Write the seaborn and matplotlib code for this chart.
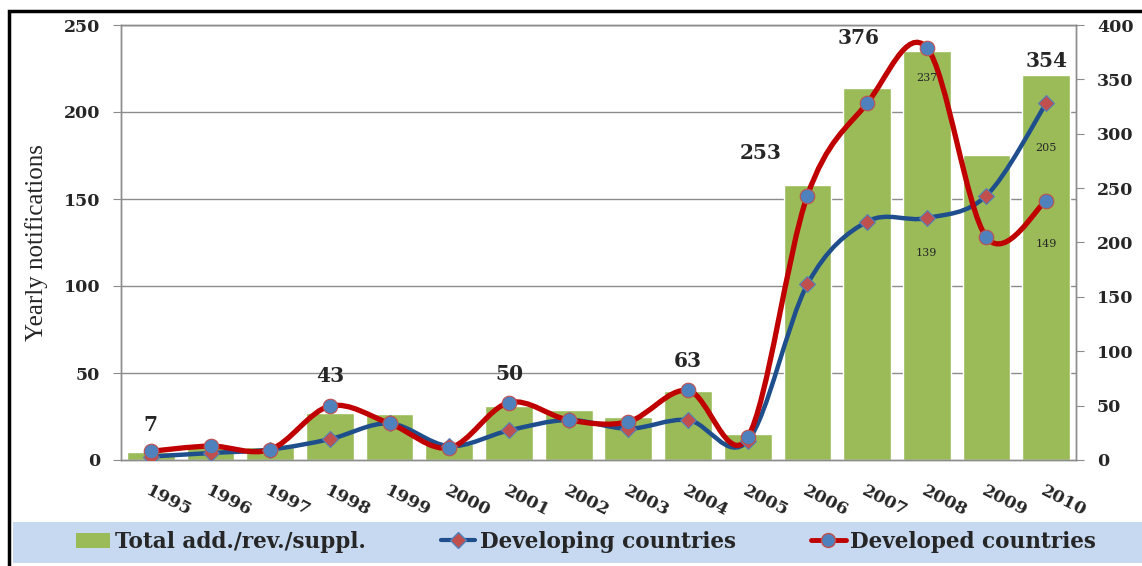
import numpy as np
import seaborn as sns
import matplotlib.pyplot as plt
from matplotlib.path import Path
from matplotlib.patches import PathPatch, Rectangle, Patch
from matplotlib.lines import Line2D

years = list(range(1995, 2011))
total = [7, 12, 12, 43, 42, 15, 50, 46, 40, 63, 24, 253, 342, 376, 280, 354]
developing = [2, 4, 6, 12, 21, 8, 17, 23, 18, 23, 11, 101, 137, 139, 152, 205]
developed = [5, 8, 6, 31, 21, 7, 33, 23, 22, 40, 13, 152, 205, 237, 128, 149]
labelled_totals = [1995, 1998, 2001, 2004, 2006, 2008, 2010]
labelled_points = [("developed", 2008), ("developing", 2008), ("developed", 2010), ("developing", 2010)]

GREEN = "#9BBB59"
RED = "#C00000"
BLUE = "#1F4E8C"
GRID = "#8C8C8C"
SERIF = "DejaVu Serif"


def smooth_path(xs, ys):
    # Excel-like smoothed line: cubic Bezier through every point
    pts = np.column_stack([xs, ys]).astype(float)
    n = len(pts)
    verts = [pts[0]]
    codes = [Path.MOVETO]
    for i in range(n - 1):
        p0 = pts[i - 1] if i > 0 else pts[i]
        p1, p2 = pts[i], pts[i + 1]
        p3 = pts[i + 2] if i + 2 < n else pts[i + 1]
        verts += [p1 + (p2 - p0) / 6, p2 - (p3 - p1) / 6, p2]
        codes += [Path.CURVE4] * 3
    return Path(verts, codes)


sns.set_style("white")
fig = plt.figure(figsize=(11.42, 5.66), dpi=100)
ax = fig.add_axes([121 / 1142, 1 - 460 / 566, (1076 - 121) / 1142, 435 / 566])
ax2 = ax.twinx()

# bars on the right-hand scale
sns.barplot(x=years, y=total, ax=ax, color=GREEN, saturation=1, width=0.8, zorder=2)
ax.set_ylim(0, 400)
ax.set_xlim(-0.5, len(years) - 0.5)
ax.yaxis.tick_right()
ax.set_yticks(range(0, 401, 50))
ax.set_xlabel("")
ax.set_ylabel("")

# gridlines follow the left-hand scale, drawn behind the bars
for v in range(50, 251, 50):
    ax.axhline(v * 400 / 250, color=GRID, lw=1, zorder=0)

# lines on the left-hand scale
x = np.arange(len(years))
ax2.set_ylim(0, 250)
ax2.set_yticks(range(0, 251, 50))
ax2.yaxis.tick_left()
ax2.add_patch(PathPatch(smooth_path(x, developing), fill=False, edgecolor=BLUE, lw=3.2,
                        capstyle="round", joinstyle="round", zorder=3))
ax2.add_patch(PathPatch(smooth_path(x, developed), fill=False, edgecolor=RED, lw=3.8,
                        capstyle="round", joinstyle="round", zorder=4))
ax2.plot(x, developing, ls="none", marker="D", ms=8.5, mfc="#C0504D", mec="#4F81BD", mew=0.8, zorder=5)
ax2.plot(x, developed, ls="none", marker="o", ms=10.5, mfc="#4F81BD", mec="#C0504D", mew=0.8, zorder=6)

# axes styling
for a in (ax, ax2):
    for s in a.spines.values():
        s.set_color(GRID)
        s.set_linewidth(1)
ax.tick_params(axis="y", which="major", direction="out", length=6, color=GRID, pad=9,
               labelsize=12.5)
ax2.tick_params(axis="y", which="major", direction="out", length=6, color=GRID, pad=9,
                labelsize=12.5)
for lab in ax.get_yticklabels() + ax2.get_yticklabels():
    lab.set_fontfamily(SERIF)
    lab.set_fontweight("bold")

ax.set_xticks(x)
ax.set_xticklabels(years, rotation=-27, ha="left", va="top", rotation_mode="anchor",
                   fontfamily=SERIF, fontweight="bold", fontsize=12.5)
ax.set_xticks(np.arange(-0.5, len(years), 1), minor=True)
ax.tick_params(axis="x", which="major", length=0, pad=16)
ax.tick_params(axis="x", which="minor", length=6, color=GRID, direction="out")

ax2.set_ylabel("Yearly notifications", fontfamily="Liberation Serif", fontsize=18)
ax2.yaxis.set_label_position("left")
ax2.yaxis.set_label_coords(-0.076, 0.5)

# total labels above the bars (pixel nudges)
nudges = {1995: (0, 27), 1998: (0, 37), 2001: (0, 32), 2004: (0, 30),
          2006: (-47, 32), 2008: (-68, 13), 2010: (0, 14)}
for yr in labelled_totals:
    i = years.index(yr)
    dx, dy = nudges[yr]
    ax2.annotate(str(total[i]), xy=(i, total[i] * 250 / 400), xytext=(dx / 1.389, dy / 1.389),
                 textcoords="offset points", ha="center", va="center",
                 fontfamily=SERIF, fontweight="bold", fontsize=14.5, zorder=7)

# small value labels under some markers
series = {"developed": developed, "developing": developing}
below = {("developed", 2008): 30, ("developing", 2008): 35,
         ("developed", 2010): 43, ("developing", 2010): 45}
for name, yr in labelled_points:
    i = years.index(yr)
    v = series[name][i]
    ax2.annotate(str(v), xy=(i, v), xytext=(0, -below[(name, yr)] / 1.389),
                 textcoords="offset points", ha="center", va="center",
                 fontfamily=SERIF, fontsize=8, zorder=7)

# legend band and outer frame
fig.patches.append(Rectangle((13 / 1142, 1 - 563 / 566), 1.0, 41 / 566, transform=fig.transFigure,
                             facecolor="#C6D9F1", edgecolor="none", zorder=0))
fig.patches.append(Rectangle((9 / 1142, -0.05), 1.05, 1.05 - 11 / 566, transform=fig.transFigure,
                             facecolor="none", edgecolor="black", lw=2.5, zorder=1))

handles = [
    Patch(facecolor=GREEN, edgecolor="none"),
    Line2D([], [], color=BLUE, lw=3, marker="D", ms=8, mfc="#C0504D", mec="#4F81BD"),
    Line2D([], [], color=RED, lw=3.5, marker="o", ms=10, mfc="#4F81BD", mec="#C0504D"),
]
labels = ["Total add./rev./suppl.", "Developing countries", "Developed countries"]
fig.legend(handles, labels, loc="center", bbox_to_anchor=(0.513, 1 - 542 / 566), ncol=3,
           frameon=False, handlelength=1.6, columnspacing=3.5, handletextpad=0.2,
           prop={"family": SERIF, "weight": "bold", "size": 15.5})

fig.savefig("out.png", dpi=100)
